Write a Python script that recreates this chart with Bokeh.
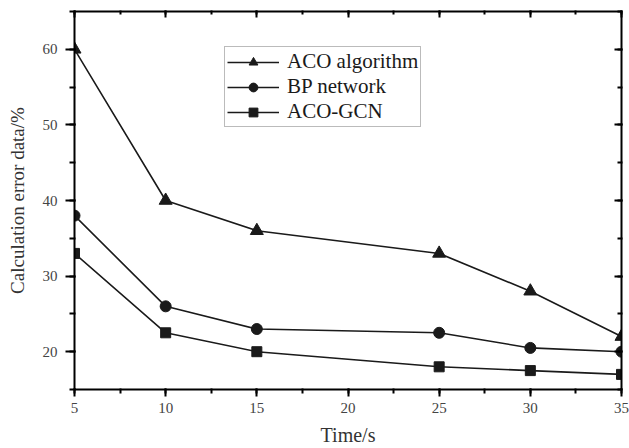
from bokeh.plotting import figure
from bokeh.models import LinearAxis, BasicTicker, Range1d, Legend, CustomJSTickFormatter
from bokeh.embed import file_html
from bokeh.resources import INLINE

time_s = [5, 10, 15, 25, 30, 35]
aco_algorithm = [60, 40, 36, 33, 28, 22]
bp_network = [38, 26, 23, 22.5, 20.5, 20]
aco_gcn = [33, 22.5, 20, 18, 17.5, 17]

FONT = "Liberation Serif"
LINE = "#1a1a1a"

p = figure(width=629, height=448, output_backend="svg", toolbar_location=None,
           x_range=Range1d(5, 35), y_range=Range1d(15, 65),
           min_border_left=74, min_border_right=8, min_border_top=11, min_border_bottom=57)
p.xgrid.grid_line_color = None
p.ygrid.grid_line_color = None
p.outline_line_color = None

def style(ax, n):
    ax.ticker = BasicTicker(desired_num_ticks=n, num_minor_ticks=2)
    ax.axis_line_color = "black"
    ax.axis_line_width = 2
    ax.major_tick_line_color = "black"
    ax.minor_tick_line_color = "black"
    ax.major_tick_line_width = 2
    ax.minor_tick_line_width = 2
    ax.major_label_text_font = FONT
    ax.major_label_text_font_size = "15px"
    ax.major_label_text_color = "#444444"
    ax.axis_label_text_font = FONT
    ax.axis_label_text_font_style = "normal"
    ax.axis_label_text_color = "#333333"

bottom = p.xaxis[0]
style(bottom, 7)
bottom.major_tick_in = 1
bottom.major_tick_out = 7
bottom.minor_tick_in = 1
bottom.minor_tick_out = 4
bottom.major_label_standoff = 6
bottom.axis_label = "Time/s"
bottom.axis_label_text_font_size = "20px"
bottom.axis_label_standoff = 8

left = p.yaxis[0]
style(left, 5)
left.major_tick_in = 1
left.major_tick_out = 9
left.minor_tick_in = 1
left.minor_tick_out = 5
left.major_label_standoff = 8
left.axis_label = "Calculation error data/%"
left.axis_label_text_font_size = "19px"
left.axis_label_standoff = 12

empty = CustomJSTickFormatter(code="return ''")

top = LinearAxis()
style(top, 7)
top.formatter = empty
top.major_tick_in = 6
top.major_tick_out = 1
top.minor_tick_in = 3
top.minor_tick_out = 1
top.major_label_standoff = 0
p.add_layout(top, "above")

right = LinearAxis()
style(right, 5)
right.formatter = empty
right.major_tick_in = 7
right.major_tick_out = 1
right.minor_tick_in = 4
right.minor_tick_out = 1
right.major_label_standoff = 0
p.add_layout(right, "right")

r1 = p.line(time_s, aco_algorithm, line_color=LINE, line_width=1.6)
m1 = p.scatter(time_s, aco_algorithm, marker="triangle", size=13, fill_color=LINE, line_color=LINE)
r2 = p.line(time_s, bp_network, line_color=LINE, line_width=1.6)
m2 = p.scatter(time_s, bp_network, marker="circle", size=11, fill_color=LINE, line_color=LINE)
r3 = p.line(time_s, aco_gcn, line_color=LINE, line_width=1.6)
m3 = p.scatter(time_s, aco_gcn, marker="square", size=10, fill_color=LINE, line_color=LINE)

legend = Legend(items=[("ACO algorithm", [r1, m1]), ("BP network", [r2, m2]), ("ACO-GCN", [r3, m3])],
                location=(150, 262))
legend.label_text_font = FONT
legend.label_text_font_size = "21px"
legend.label_text_color = "#1a1a1a"
legend.label_height = 22
legend.glyph_height = 22
legend.glyph_width = 52
legend.label_standoff = 8
legend.spacing = 0
legend.padding = 2
legend.margin = 0
legend.border_line_color = "#777777"
legend.border_line_width = 1
legend.background_fill_alpha = 1
p.add_layout(legend, "center")

open("out.html", "w").write(file_html(p, INLINE))
